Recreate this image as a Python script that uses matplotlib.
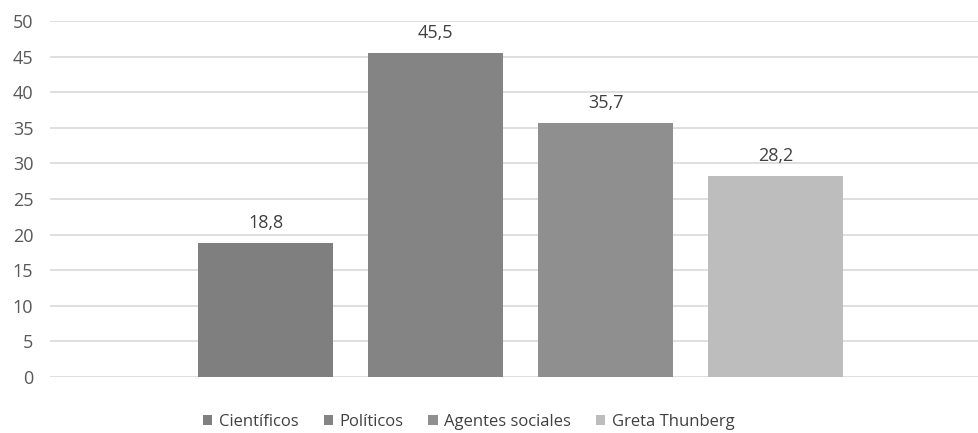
import matplotlib.pyplot as plt

series = ['Científicos', 'Políticos', 'Agentes sociales', 'Greta Thunberg']
values = [18.8, 45.5, 35.7, 28.2]
labels = ['18,8', '45,5', '35,7', '28,2']
colors = ['#7f7f7f', '#848484', '#8f8f8f', '#bdbdbd']
yticks = [0, 5, 10, 15, 20, 25, 30, 35, 40, 45, 50]

plt.rcParams['font.family'] = ['Open Sans', 'DejaVu Sans']

fig = plt.figure(figsize=(9.79, 4.33), dpi=100)
ax = fig.add_axes([50 / 979, 56 / 433, 929 / 979, 356 / 433])

handles = []
for i, (name, val, lab, col) in enumerate(zip(series, values, labels, colors)):
    b = ax.bar(i, val, width=0.79, color=col, label=name, zorder=3)
    handles.append(b)
    ax.annotate(lab, (i, val), xytext=(0, 8), textcoords='offset points',
                ha='center', va='bottom', fontsize=13, color='#404040')

ax.set_xlim(-1.268, 4.197)
ax.set_ylim(0, 50)
ax.set_yticks(yticks)
ax.set_yticklabels([str(t) for t in yticks], fontsize=13, color='#595959')
ax.set_xticks([])
ax.tick_params(axis='y', length=0, pad=12)
ax.grid(axis='y', color='#d9d9d9', linewidth=1.2, zorder=0)
ax.set_axisbelow(True)
for s in ax.spines.values():
    s.set_visible(False)

fig.legend(handles=handles, labels=series, loc='center', bbox_to_anchor=(0.479, 0.025),
           ncol=4, frameon=False, fontsize=12, handlelength=0.55, handleheight=0.55,
           handletextpad=0.4, columnspacing=1.5, labelcolor='#404040')

fig.savefig('out.png', dpi=100)
